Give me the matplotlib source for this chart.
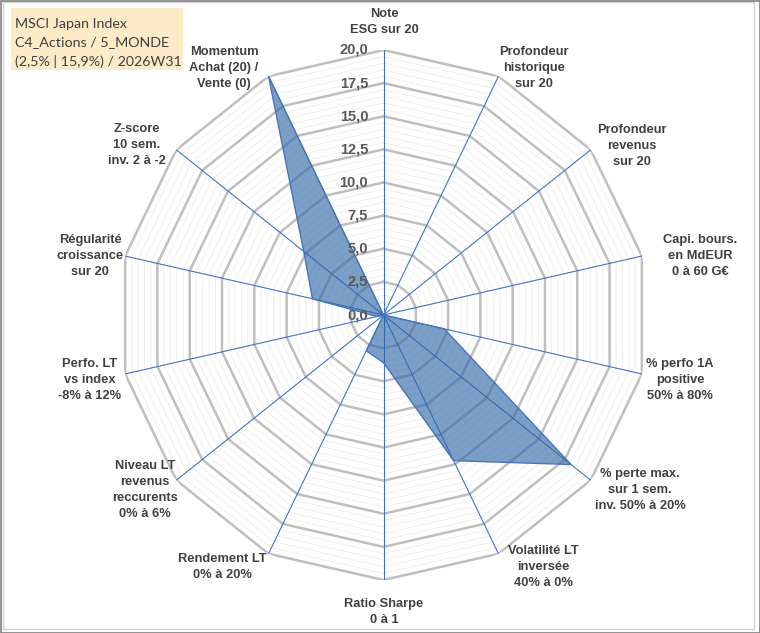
import matplotlib

matplotlib.use("Agg")
import matplotlib.pyplot as plt
import numpy as np
from matplotlib.patches import Rectangle

# Données du radar (14 axes, sens horaire depuis le haut)
categories = [
    "Note\nESG sur 20",
    "Profondeur\nhistorique\nsur 20",
    "Profondeur\nrevenus\nsur 20",
    "Capi. bours.\nen MdEUR\n0 à 60 G€",
    "% perfo 1A\npositive\n50% à 80%",
    "% perte max.\nsur 1 sem.\ninv. 50% à 20%",
    "Volatilité LT\ninversée\n40% à 0%",
    "Ratio Sharpe\n0 à 1",
    "Rendement LT\n0% à 20%",
    "Niveau LT\nrevenus\nreccurents\n0% à 6%",
    "Perfo. LT\nvs index\n-8% à 12%",
    "Régularité\ncroissance\nsur 20",
    "Z-score\n10 sem.\ninv. 2 à -2",
    "Momentum\nAchat (20) /\nVente (0)",
]
values = [0, 0, 0, 0, 4.7, 18.1, 12.2, 3.6, 3.0, 0, 0.5, 5.5, 7.7, 20]
major_levels = [0, 2.5, 5, 7.5, 10, 12.5, 15, 17.5, 20]
major_labels = ["0,0", "2,5", "5,0", "7,5", "10,0", "12,5", "15,0", "17,5", "20,0"]
title_lines = ["MSCI Japan Index", "C4_Actions / 5_MONDE", "(2,5% | 15,9%) / 2026W31"]

# placement des étiquettes d'axes (centre du bloc, en pixels)
label_xy = [(384, 22), (534, 68), (632, 146), (700, 256), (680, 380), (640, 490),
            (543, 567), (384, 612), (222, 567), (145, 490), (90, 380), (90, 256),
            (137, 145), (224, 68)]

W, H = 760, 633
fig = plt.figure(figsize=(W / 100, H / 100), dpi=100)
fig.patch.set_facecolor("white")

cx, cy, R = 383.5, 315, 265
ax = fig.add_axes([(cx - R) / W, (H - cy - R) / H, 2 * R / W, 2 * R / H], projection="polar")
ax.set_theta_zero_location("N")
ax.set_theta_direction(-1)
ax.set_ylim(0, 20)
ax.grid(False)
ax.spines["polar"].set_visible(False)
ax.set_xticks([])
ax.set_yticks([])
ax.patch.set_visible(False)

n = len(categories)
theta = np.arange(n) * 2 * np.pi / n
theta_c = np.append(theta, theta[0])

# grille : mineure tous les 0,5 puis majeure tous les 2,5
for lvl in np.arange(0.5, 20, 0.5):
    if lvl % 2.5:
        ax.plot(theta_c, [lvl] * (n + 1), color="#EFEFEF", lw=0.7, zorder=1)
for lvl in major_levels[1:]:
    ax.plot(theta_c, [lvl] * (n + 1), color="#BFBFBF", lw=1.8, zorder=2)
for t in theta:
    ax.plot([t, t], [0, 20], color="#4472C4", lw=0.8, zorder=3)

vals_c = values + values[:1]
ax.fill(theta_c, vals_c, color="#2B65A6", alpha=0.62, lw=0, zorder=4)
ax.plot(theta_c, vals_c, color="#4A74B8", lw=1.0, zorder=5)

for lvl, lab in zip(major_levels, major_labels):
    ax.annotate(lab, (0, lvl), xytext=(-11, 0), textcoords="offset points",
                ha="right", va="center", fontsize=10.5, fontweight="bold",
                color="#595959", family="Liberation Sans", zorder=6)

for (x, y), lab in zip(label_xy, categories):
    fig.text(x / W, 1 - y / H, lab, ha="center", va="center", fontsize=9.3, fontweight="bold",
             color="#404040", family="Liberation Sans", linespacing=1.45)

# cartouche titre
fig.patches.append(Rectangle((11 / W, 1 - 70 / H), 172 / W, 62 / H, transform=fig.transFigure,
                             facecolor="#FDEBC8", edgecolor="none", zorder=0))
for i, line in enumerate(title_lines):
    fig.text(15 / W, 1 - (23.5 + 19 * i) / H, line, ha="left", va="center", fontsize=10.3,
             color="#404040", family="Lato")

# cadres
fig.patches.append(Rectangle((3 / W, 4 / H), 751 / W, 627 / H, transform=fig.transFigure,
                             facecolor="none", edgecolor="#D0D0D0", lw=1.0))
fig.patches.append(Rectangle((0.5 / W, 0.5 / H), (W - 1) / W, (H - 1) / H, transform=fig.transFigure,
                             facecolor="none", edgecolor="#808080", lw=1.2))

fig.savefig("out.png", dpi=100)
